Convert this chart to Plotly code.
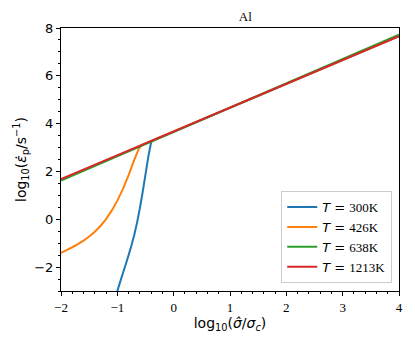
import plotly.graph_objects as go

# ---- data ----
x_300 = [-1.02, -0.95, -0.90, -0.85, -0.80, -0.75, -0.70, -0.65, -0.60, -0.55, -0.50, -0.45, -0.40, -0.38, 4.0]
y_300 = [-3.15, -2.62, -2.25, -1.88, -1.50, -1.10, -0.66, -0.14, 0.46, 1.14, 1.88, 2.62, 3.22, 3.28, 7.66]

x_426 = [-2.0, -1.9, -1.8, -1.7, -1.6, -1.5, -1.4, -1.3, -1.2, -1.1, -1.0, -0.9, -0.8, -0.7, -0.62, -0.57, 4.0]
y_426 = [-1.40, -1.29, -1.17, -1.04, -0.89, -0.72, -0.52, -0.28, 0.01, 0.36, 0.78, 1.27, 1.85, 2.48, 2.94, 3.10, 7.66]

x_638 = [-2.0, 4.0]
y_638 = [1.62, 7.72]

x_1213 = [-2.0, 4.0]
y_1213 = [1.68, 7.66]

series_names = ["300K", "426K", "638K", "1213K"]
colors = ["#1f77b4", "#ff7f0e", "#2ca02c", "#d62728"]

x_ticks = [-2, -1, 0, 1, 2, 3, 4]
y_ticks = [-2, 0, 2, 4, 6, 8]

SERIF = "Liberation Serif, DejaVu Serif, serif"
SANS = "DejaVu Sans, sans-serif"

# page body has an 8px default margin; figure is sized to fit the window
W, H = 407, 341

fig = go.Figure()
for xs, ys, name, c in zip([x_300, x_426, x_638, x_1213],
                           [y_300, y_426, y_638, y_1213],
                           series_names, colors):
    fig.add_trace(go.Scatter(
        x=xs, y=ys, mode="lines",
        line=dict(color=c, width=2, shape="linear", simplify=False),
        name=f"<i>T</i> = <span style=\"font-family:{SERIF}\">{name}</span>",
    ))

fig.update_layout(
    width=W, height=H,
    margin=dict(l=52, r=15, t=20, b=58),
    paper_bgcolor="white", plot_bgcolor="white",
    title=dict(text="Al", x=(52 + 170) / W, xref="paper", xanchor="center", y=1 - 8 / H, yanchor="middle",
               font=dict(family=SERIF, size=13, color="black")),
    showlegend=True,
    legend=dict(
        x=0.98, y=0.03, xanchor="right", yanchor="bottom",
        bgcolor="rgba(255,255,255,0.8)", bordercolor="#cccccc", borderwidth=1,
        font=dict(family=SANS, size=13, color="black"),
    ),
    xaxis=dict(
        range=[-2, 4], tickmode="array", tickvals=x_ticks,
        ticks="outside", ticklen=4, tickwidth=1, tickcolor="black",
        showline=True, linecolor="black", linewidth=1, mirror=True,
        showgrid=False, zeroline=False,
        tickfont=dict(family=SERIF, size=13, color="black"),
        minor=dict(dtick=0.2, ticks="outside", ticklen=2, tickcolor="black", showgrid=False),
        title=dict(text="log<sub>10</sub>(<i>σ̂</i>/<i>σ<sub>c</sub></i>)", standoff=4,
                   font=dict(family=SANS, size=14, color="black")),
    ),
    yaxis=dict(
        range=[-3, 8], tickmode="array", tickvals=y_ticks,
        ticks="outside", ticklen=4, tickwidth=1, tickcolor="black",
        showline=True, linecolor="black", linewidth=1, mirror=True,
        showgrid=False, zeroline=False,
        tickfont=dict(family=SANS, size=13, color="black"),
        minor=dict(dtick=0.5, ticks="outside", ticklen=2, tickcolor="black", showgrid=False),
        title=dict(text="log<sub>10</sub>(<i>ε̇</i><sub>p</sub>/s<sup>−1</sup>)", standoff=4,
                   font=dict(family=SANS, size=14, color="black")),
    ),
)

fig.write_html("out.html")
